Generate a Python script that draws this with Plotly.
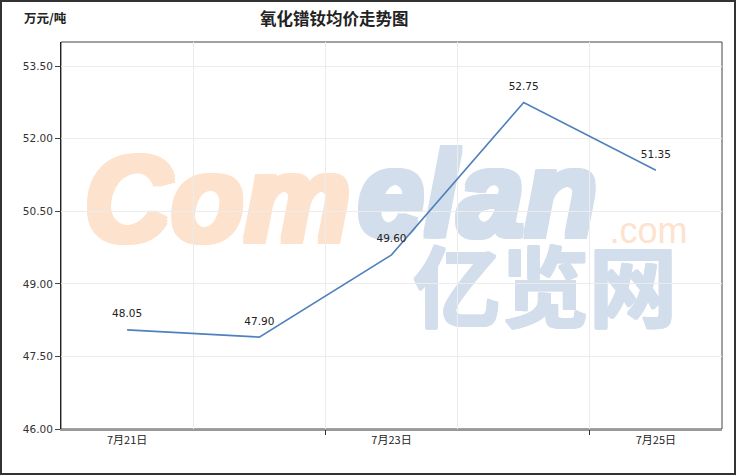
import plotly.graph_objects as go

dates = ["7月21日", "7月22日", "7月23日", "7月24日", "7月25日"]
prices = [48.05, 47.90, 49.60, 52.75, 51.35]
y_ticks = [46.00, 47.50, 49.00, 50.50, 52.00, 53.50]
title = "氧化镨钕均价走势图"
unit = "万元/吨"

W, H = 736, 475
L, R, T, B = 61, 14, 42, 46
pw, ph = W - L - R, H - T - B


def px(x):
    return (x - L) / pw


def py(y):
    return (H - B - y) / ph


xpos = [i + 0.5 for i in range(len(dates))]

fig = go.Figure()
fig.add_trace(go.Scatter(
    x=xpos, y=prices, mode="lines+markers+text",
    text=[f"{v:.2f}" for v in prices], textposition="top center",
    textfont=dict(family="DejaVu Sans", size=10.5, color="#222"),
    marker=dict(size=14, opacity=0),
    line=dict(color="#4f81bd", width=1.6),
    hoverinfo="skip", showlegend=False, cliponaxis=False,
))
# invisible trace for secondary x axis (tick marks)
fig.add_trace(go.Scatter(x=[0, 5], y=[46, 46], xaxis="x2", mode="markers",
                         marker=dict(opacity=0), hoverinfo="skip", showlegend=False))

shapes = []
# outer page border
shapes.append(dict(type="rect", xref="paper", yref="paper",
                   x0=px(1), x1=px(735), y0=py(474), y1=py(1),
                   line=dict(color="#333", width=2), layer="below"))
# plot box
shapes.append(dict(type="rect", xref="paper", yref="paper",
                   x0=0, x1=1, y0=0, y1=1,
                   line=dict(color="#444", width=1), layer="below"))


def wm(text, x0, x1, y0, y1, size, color, italic=True, bold=True,
       family="Liberation Sans", thick=0):
    font = dict(family=family, size=size, color=color,
                style="italic" if italic else "normal",
                weight="bold" if bold else "normal")
    if thick:
        t = thick
        font["shadow"] = ", ".join(f"{dx}px {dy}px 0 {color}" for dx, dy in
                                   [(t, 0), (-t, 0), (0, t), (0, -t), (t, t), (-t, -t), (t, -t), (-t, t)])
    shapes.append(dict(type="rect", xref="paper", yref="paper",
                       x0=px(x0), x1=px(x1), y0=py(y1), y1=py(y0),
                       line=dict(width=0), fillcolor="rgba(0,0,0,0)", layer="below",
                       label=dict(text=text, textposition="middle center", font=font)))


wm("Com", 80, 355, 130, 245, 120, "#fde2cd", thick=3)
wm("elan", 350, 605, 125, 240, 120, "#d3deec", thick=3)
wm(".com", 605, 692, 210, 245, 36, "#fde2cd", italic=False, bold=False)
wm("亿览网", 400, 690, 250, 340, 88, "#d3deec", italic=False, bold=True,
   family="Noto Sans CJK SC", thick=1)

fig.update_layout(
    width=W, height=H,
    margin=dict(l=L, r=R, t=T, b=B, pad=0),
    paper_bgcolor="white", plot_bgcolor="rgba(0,0,0,0)",
    shapes=shapes,
    xaxis=dict(range=[0, 5], tickmode="array", tickvals=[0.5, 2.5, 4.5],
               ticktext=[dates[0], dates[2], dates[4]], ticks="", showgrid=False,
               zeroline=False, showline=True, linecolor="#999", linewidth=2,
               tickfont=dict(family="Noto Sans CJK SC", size=11, color="#222"),
               minor=dict(tickmode="array", tickvals=[1, 2, 3, 4], showgrid=True,
                          gridcolor="#ececec", gridwidth=1, ticks="")),
    xaxis2=dict(overlaying="x", range=[0, 5], tickmode="array", tickvals=[2, 4],
                ticks="outside", ticklen=5, tickcolor="#333", tickwidth=1,
                showticklabels=False, showgrid=False, zeroline=False, showline=False,
                side="bottom", anchor="y"),
    yaxis=dict(range=[46, 54], tickmode="array", tickvals=y_ticks,
               ticktext=[f"{v:.2f}" for v in y_ticks], ticks="outside", ticklen=5,
               tickcolor="#444", showgrid=True, gridcolor="#ececec", zeroline=False,
               showline=True, linecolor="#222", linewidth=1,
               tickfont=dict(family="DejaVu Sans", size=10.5, color="#333")),
    annotations=[
        dict(text=f"<b>{title}</b>", xref="paper", yref="paper", x=px(258), y=py(18),
             xanchor="left", yanchor="middle", showarrow=False,
             font=dict(family="Noto Sans CJK SC", size=16.5, color="#222")),
        dict(text=f"<b>{unit}</b>", xref="paper", yref="paper", x=px(22), y=py(18),
             xanchor="left", yanchor="middle", showarrow=False,
             font=dict(family="Noto Sans CJK SC", size=12.5, color="#222")),
    ],
)

fig.write_html("out.html", config={"displayModeBar": False},
               post_script="document.body.style.margin='0';")
